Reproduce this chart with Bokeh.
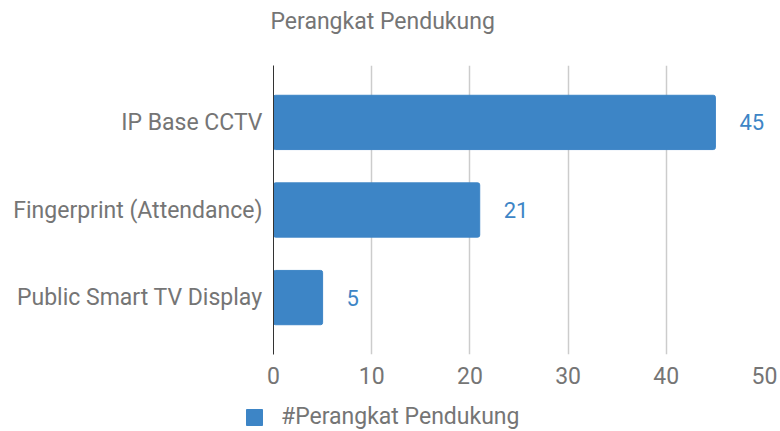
from bokeh.plotting import figure
from bokeh.layouts import column
from bokeh.models import ColumnDataSource, LabelSet, Legend, LegendItem, FixedTicker, Title
from bokeh.core.properties import value
from bokeh.embed import file_html
from bokeh.resources import INLINE

categories = ["IP Base CCTV", "Fingerprint (Attendance)", "Public Smart TV Display"]
values = [45, 21, 5]
x_ticks = [0, 10, 20, 30, 40, 50]
title_text = "Perangkat Pendukung"
series_name = "#Perangkat Pendukung"

BAR = "#3d85c6"
GREY = "#757575"
FONT = "Roboto"
FS = "23px"

source = ColumnDataSource(dict(cat=categories, val=values, lab=[str(v) for v in values]))

p = figure(
    y_range=list(reversed(categories)), x_range=(0, 50),
    frame_width=491, frame_height=289, output_backend="svg", toolbar_location=None,
    min_border_left=273, min_border_right=16, min_border_top=64, min_border_bottom=46,
)
p.y_range.range_padding = 0.1
p.outline_line_color = None
p.background_fill_color = "white"
p.border_fill_color = "white"

p.title.text = title_text
p.title.text_font = FONT
p.title.text_font_size = FS
p.title.text_font_style = "normal"
p.title.text_color = GREY
p.title.offset = -3
p.title.standoff = 10

# spacer between the title and the frame
p.add_layout(Title(text=" ", text_font_size="1px", standoff=23), "above")

r = p.hbar(y="cat", right="val", height=0.62, source=source, color=BAR, border_radius=2)

labels = LabelSet(x="val", y="cat", text="lab", source=source, x_offset=24,
                  text_align="left", text_baseline="middle", text_color=BAR,
                  text_font=value(FONT), text_font_size=value("22px"))
p.add_layout(labels)

p.xaxis.ticker = FixedTicker(ticks=x_ticks)
p.xaxis.axis_line_color = None
p.xaxis.major_tick_line_color = None
p.xaxis.minor_tick_line_color = None
p.xaxis.major_tick_out = 0
p.xaxis.major_tick_in = 0
p.xaxis.major_label_text_font = FONT
p.xaxis.major_label_text_font_size = FS
p.xaxis.major_label_text_color = GREY
p.xaxis.major_label_standoff = 12

p.yaxis.axis_line_color = "#333333"
p.yaxis.axis_line_width = 1
p.yaxis.major_tick_line_color = None
p.yaxis.minor_tick_line_color = None
p.yaxis.major_tick_out = 0
p.yaxis.major_tick_in = 0
p.yaxis.major_label_text_font = FONT
p.yaxis.major_label_text_font_size = FS
p.yaxis.major_label_text_color = GREY
p.yaxis.major_label_standoff = 11

p.ygrid.grid_line_color = None
p.xgrid.grid_line_color = "#cccccc"
p.xgrid.grid_line_width = 1.5

# legend strip below the chart (its own frame fills the strip)
lg = figure(width=780, height=32, x_range=(0, 1), y_range=list(reversed(categories)),
            x_axis_type=None, y_axis_type=None, output_backend="svg",
            toolbar_location=None, min_border=0)
lg.frame_align = False
lg.outline_line_color = None
lg.grid.visible = False
lg.border_fill_color = "white"
# zero-width key bars lie outside this strip's range; only their legend swatch shows
key = lg.hbar(y="cat", left="val", right="val", height=0.62, source=source,
              color=BAR, border_radius=2)
legend = Legend(items=[LegendItem(label=series_name, renderers=[key])],
                location=(244, 2), orientation="horizontal",
                label_text_font=FONT, label_text_font_size=FS, label_text_color=GREY,
                glyph_width=20, glyph_height=20, border_line_color=None,
                background_fill_alpha=0,
                padding=0, margin=0, label_standoff=17)
lg.add_layout(legend, "center")

layout = column(p, lg, spacing=0)
open("out.html", "w").write(file_html(layout, INLINE))
